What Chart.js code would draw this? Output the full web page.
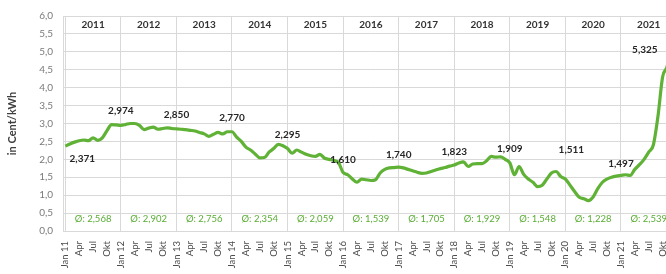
<!DOCTYPE html>
<html><head><meta charset="utf-8">
<script src="https://cdn.jsdelivr.net/npm/chart.js@4"></script>
<style>
html,body{margin:0;padding:0;background:#fff;overflow:hidden;}
#wrap{width:666px;height:274px;overflow:hidden;position:relative;}
canvas{display:block;}
</style></head><body>
<div id="wrap"><canvas id="c" width="684" height="274"></canvas></div>
<script>
// ---- data ----
const years = ['2011','2012','2013','2014','2015','2016','2017','2018','2019','2020','2021'];
const yearShort = ['11','12','13','14','15','16','17','18','19','20','21'];
const tickMonths = ['Jan','Apr','Jul','Okt'];
const v2011 = [2.37, 2.43, 2.48, 2.52, 2.54, 2.52, 2.60, 2.53, 2.60, 2.80, 2.97, 2.96];
const v2012 = [2.95, 2.97, 3.00, 3.00, 2.95, 2.83, 2.87, 2.90, 2.84, 2.86, 2.88, 2.86];
const v2013 = [2.85, 2.84, 2.83, 2.81, 2.79, 2.75, 2.71, 2.64, 2.70, 2.75, 2.71, 2.77];
const v2014 = [2.77, 2.62, 2.50, 2.34, 2.26, 2.15, 2.04, 2.05, 2.20, 2.30, 2.42, 2.38];
const v2015 = [2.30, 2.17, 2.26, 2.20, 2.14, 2.10, 2.08, 2.14, 2.03, 2.00, 1.97, 1.91];
const v2016 = [1.63, 1.57, 1.45, 1.36, 1.45, 1.43, 1.41, 1.43, 1.62, 1.72, 1.76, 1.77];
const v2017 = [1.78, 1.76, 1.72, 1.68, 1.64, 1.61, 1.62, 1.66, 1.70, 1.74, 1.77, 1.81];
const v2018 = [1.84, 1.90, 1.93, 1.80, 1.87, 1.88, 1.88, 1.96, 2.08, 2.06, 2.07, 2.00];
const v2019 = [1.90, 1.57, 1.80, 1.58, 1.45, 1.36, 1.24, 1.28, 1.45, 1.62, 1.66, 1.52];
const v2020 = [1.45, 1.28, 1.10, 0.94, 0.90, 0.85, 0.95, 1.18, 1.36, 1.45, 1.50, 1.53];
const v2021 = [1.55, 1.57, 1.55, 1.72, 1.85, 2.00, 2.20, 2.40, 3.20, 4.30, 4.60, 5.325];
const yearAverages = [2.568, 2.902, 2.756, 2.354, 2.059, 1.539, 1.705, 1.929, 1.548, 1.228, 2.539];
const januaryLabels = [2.371, 2.974, 2.850, 2.770, 2.295, 1.610, 1.740, 1.823, 1.909, 1.511, 1.497];
const finalLabel = 5.325;

// ---- styles (not data) ----
const FONT = 'Lato, "Liberation Sans", sans-serif';
const GRID = '#d9d9d9';
const LINE_GREEN = '#5fb236';
const AVG_GREEN = '#5aad35';
const labelOffsets = { default:[0,-14], first:[17,13], y2020:[6,-27], final:[-27,10] };

const series = [].concat(v2011,v2012,v2013,v2014,v2015,v2016,v2017,v2018,v2019,v2020,v2021);
const points = series.map((v,i)=>({x:i,y:v}));
const tickIdx = [];
for (let m = 0; m < series.length - 2; m += 3) tickIdx.push(m);

const fmt = (v,d)=> v.toFixed(d).replace('.',',');

const overlay = {
  id:'overlay',
  afterDatasetsDraw(chart){
    const {ctx, scales:{x,y}} = chart;
    ctx.save();
    ctx.textAlign='center'; ctx.textBaseline='middle';
    ctx.font = 'bold 10px ' + FONT; ctx.fillStyle = '#333333';
    years.forEach((yr,i)=>{ ctx.fillText(yr, x.getPixelForValue(i*12+6), y.getPixelForValue(5.75)); });
    ctx.font = '9.5px ' + FONT; ctx.fillStyle = AVG_GREEN;
    yearAverages.forEach((a,i)=>{ ctx.fillText('Ø: ' + fmt(a,3), x.getPixelForValue(i*12+6), y.getPixelForValue(0.35)); });
    ctx.font = 'bold 10px ' + FONT; ctx.fillStyle = '#262626';
    januaryLabels.forEach((v,i)=>{
      let off = labelOffsets.default;
      if (i===0) off = labelOffsets.first;
      if (years[i]==='2020') off = labelOffsets.y2020;
      ctx.fillText(fmt(v,3), x.getPixelForValue(i*12)+off[0], y.getPixelForValue(v)+off[1]);
    });
    const lastIdx = series.length-1;
    ctx.fillText(fmt(finalLabel,3), x.getPixelForValue(lastIdx)+labelOffsets.final[0], y.getPixelForValue(finalLabel)+labelOffsets.final[1]);
    ctx.restore();
  }
};

new Chart(document.getElementById('c'), {
  type:'line',
  data:{datasets:[{data:points, borderColor:LINE_GREEN, borderWidth:3.2, pointRadius:0, cubicInterpolationMode:'monotone', fill:false}]},
  options:{
    responsive:false, animation:false, devicePixelRatio:1,
    layout:{padding:{top:4,right:0,bottom:0,left:0}},
    plugins:{legend:{display:false}, tooltip:{enabled:false}},
    scales:{
      x:{
        type:'linear', min:-0.5, max:132,
        afterBuildTicks: ax=>{ ax.ticks = tickIdx.map(v=>({value:v})); },
        ticks:{autoSkip:false, maxRotation:90, minRotation:90, padding:10,
          font:{family:FONT, size:9.5}, color:'#4d4d4d',
          callback:(v)=>{ const m=Math.round(v); return (m%12===0) ? 'Jan ' + yearShort[m/12] : tickMonths[(m%12)/3]; }},
        grid:{color: c => (c.tick && Math.round(c.tick.value)%12===0) ? GRID : 'rgba(0,0,0,0)', drawTicks:false, lineWidth:1},
        border:{display:true, color:GRID},
        afterFit: ax=>{ ax.height = 43; }
      },
      y:{
        min:0, max:6,
        ticks:{stepSize:0.5, padding:10, font:{family:FONT, size:10}, color:'#7a7a7a', callback:v=>fmt(v,1)},
        grid:{color:GRID, drawTicks:false},
        border:{display:true, color:GRID},
        title:{display:true, text:'in Cent/kWh', color:'#404040', font:{family:FONT, size:11, weight:'bold'}, padding:{top:6,bottom:0}},
        afterFit: ax=>{ ax.width = 63; }
      }
    }
  },
  plugins:[overlay]
});
</script>
</body></html>
